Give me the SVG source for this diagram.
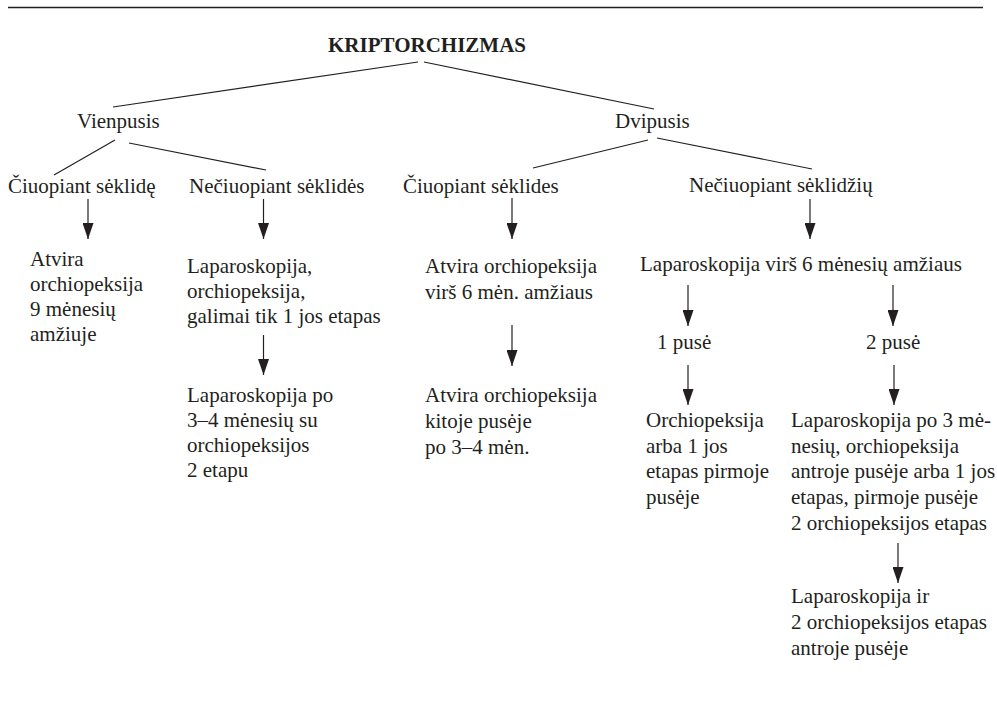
<svg xmlns="http://www.w3.org/2000/svg" width="997" height="712" viewBox="0 0 997 712">
<style>
text{font-family:"Liberation Serif",Tinos,"Times New Roman","DejaVu Serif",serif;font-size:21px;fill:#231f20}
.b{font-weight:bold}
.c line{stroke:#231f20;stroke-width:1.2}
.a{marker-end:url(#ah)}
</style>
<defs>
<marker id="ah" viewBox="0 0 16 11" refX="16" refY="5.5" markerWidth="16" markerHeight="11" markerUnits="userSpaceOnUse" orient="auto">
<path d="M0,0 L16,5.5 L0,11 z" fill="#231f20"/>
</marker>
</defs>
<rect width="997" height="712" fill="#fff"/>
<line x1="8" y1="7.5" x2="983" y2="7.5" stroke="#231f20" stroke-width="1.5"/>
<g class="c">
<line x1="418" y1="62" x2="113" y2="107"/>
<line x1="424" y1="62" x2="654" y2="109"/>
<line x1="115" y1="140" x2="54" y2="175"/>
<line x1="129" y1="143" x2="266" y2="170"/>
<line x1="648" y1="140" x2="533" y2="168"/>
<line x1="657" y1="138" x2="812" y2="169"/>
<line class="a" x1="88" y1="199" x2="88" y2="239"/>
<line class="a" x1="263.5" y1="199" x2="263.5" y2="239"/>
<line class="a" x1="263.5" y1="335" x2="263.5" y2="375"/>
<line class="a" x1="512" y1="198" x2="512" y2="239"/>
<line class="a" x1="512" y1="325" x2="512" y2="366"/>
<line class="a" x1="810" y1="199" x2="810" y2="239"/>
<line class="a" x1="688" y1="285" x2="688" y2="326"/>
<line class="a" x1="893" y1="285" x2="893" y2="326"/>
<line class="a" x1="688" y1="365" x2="688" y2="405"/>
<line class="a" x1="894" y1="365" x2="894" y2="405"/>
<line class="a" x1="898" y1="543" x2="898" y2="583"/>
</g>
<g id="root"><text class="b" x="328" y="52" font-family="Liberation Serif, serif">KRIPTORCHIZMAS</text></g>
<g id="vienpusis"><text x="77" y="128">Vienpusis</text></g>
<g id="dvipusis"><text x="615" y="128">Dvipusis</text></g>
<g id="v-ciuop"><text x="8" y="193">Čiuopiant sėklidę</text></g>
<g id="v-neciuop"><text x="189" y="193">Nečiuopiant sėklidės</text></g>
<g id="d-ciuop"><text x="403" y="193">Čiuopiant sėklides</text></g>
<g id="d-neciuop"><text x="689" y="192">Nečiuopiant sėklidžių</text></g>
<g id="v-atvira"><text x="30" y="265.7">Atvira<tspan x="30" dy="25">orchiopeksija</tspan><tspan x="30" dy="25">9 mėnesių</tspan><tspan x="30" dy="25">amžiuje</tspan></text></g>
<g id="v-lap1"><text x="187" y="272.7">Laparoskopija,<tspan x="187" dy="25">orchiopeksija,</tspan><tspan x="187" dy="25">galimai tik 1 jos etapas</tspan></text></g>
<g id="v-lap2"><text x="187" y="401.7">Laparoskopija po<tspan x="187" dy="25">3–4 mėnesių su</tspan><tspan x="187" dy="25">orchiopeksijos</tspan><tspan x="187" dy="25">2 etapu</tspan></text></g>
<g id="d-atvira1"><text x="425" y="273">Atvira orchiopeksija<tspan x="425" dy="26">virš 6 mėn. amžiaus</tspan></text></g>
<g id="d-atvira2"><text x="425" y="402">Atvira orchiopeksija<tspan x="425" dy="26">kitoje pusėje</tspan><tspan x="425" dy="26">po 3–4 mėn.</tspan></text></g>
<g id="d-lap"><text x="640" y="271">Laparoskopija virš 6 mėnesių amžiaus</text></g>
<g id="p1"><text x="657" y="349">1 pusė</text></g>
<g id="p2"><text x="866" y="349">2 pusė</text></g>
<g id="p1-res"><text x="646" y="427">Orchiopeksija<tspan x="646" dy="25.7">arba 1 jos</tspan><tspan x="646" dy="25.7">etapas pirmoje</tspan><tspan x="646" dy="25.7">pusėje</tspan></text></g>
<g id="p2-res"><text x="791" y="427">Laparoskopija po 3 mė-<tspan x="791" dy="25.7">nesių, orchiopeksija</tspan><tspan x="791" dy="25.7">antroje pusėje arba 1 jos</tspan><tspan x="791" dy="25.7">etapas, pirmoje pusėje</tspan><tspan x="791" dy="25.7">2 orchiopeksijos etapas</tspan></text></g>
<g id="p2-final"><text x="791" y="603">Laparoskopija ir<tspan x="791" dy="26">2 orchiopeksijos etapas</tspan><tspan x="791" dy="26">antroje pusėje</tspan></text></g>
</svg>
